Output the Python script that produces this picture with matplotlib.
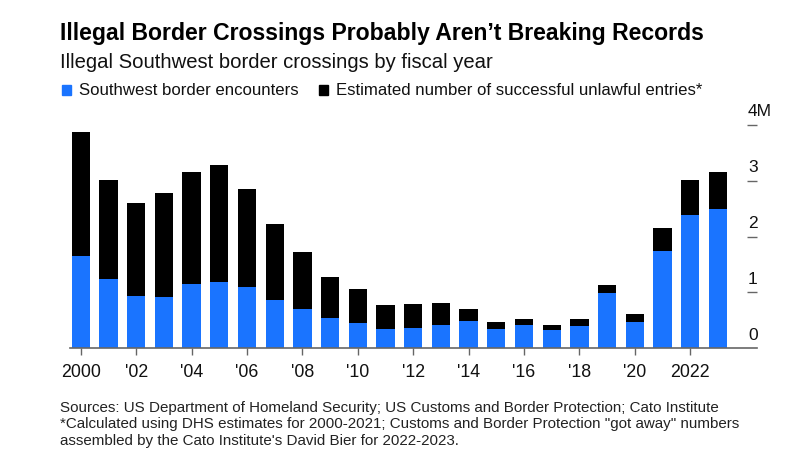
import matplotlib
matplotlib.use("Agg")
import matplotlib.pyplot as plt
from matplotlib.patches import Rectangle

plt.rcParams['font.family'] = ['Liberation Sans', 'DejaVu Sans']

years = list(range(2000, 2024))
encounters = [1.65, 1.24, 0.94, 0.91, 1.15, 1.18, 1.09, 0.87, 0.71, 0.55, 0.46, 0.34,
              0.37, 0.42, 0.49, 0.35, 0.42, 0.32, 0.40, 0.99, 0.47, 1.74, 2.38, 2.49]
totals = [3.87, 3.01, 2.61, 2.79, 3.16, 3.28, 2.85, 2.23, 1.73, 1.27, 1.06, 0.78,
          0.79, 0.82, 0.70, 0.47, 0.53, 0.42, 0.53, 1.13, 0.62, 2.15, 3.02, 3.15]
unlawful = [round(t - e, 2) for t, e in zip(totals, encounters)]
xtick_years = list(range(2000, 2023, 2))
xtick_labels = ['2000', "'02", "'04", "'06", "'08", "'10", "'12", "'14", "'16", "'18", "'20", '2022']
ytick_vals = [0, 1, 2, 3, 4]
ytick_labels = ['0', '1', '2', '3', '4M']

BLUE = '#1A74FF'
BLACK = '#000000'
GRAY = '#666666'

fig = plt.figure(figsize=(8, 4.62), dpi=100)
ax = fig.add_axes([70/800, 1 - 348.3/462, (757-70)/800, (348.3-125)/462])

ax.bar(years, encounters, width=0.66, color=BLUE, linewidth=0)
ax.bar(years, unlawful, bottom=encounters, width=0.66, color=BLACK, linewidth=0)

ax.set_xlim(1999.61, 2024.41)
ax.set_ylim(0, 4)

for s in ['top', 'left', 'right']:
    ax.spines[s].set_visible(False)
ax.spines['bottom'].set_color(GRAY)
ax.spines['bottom'].set_linewidth(1.2)

ax.set_xticks(xtick_years)
ax.set_xticklabels(xtick_labels, fontsize=12.8, color='#111111')
ax.tick_params(axis='x', length=5, width=1, color=GRAY, pad=6)

ax.yaxis.tick_right()
ax.set_yticks(ytick_vals[1:])
ax.set_yticklabels([])
ax.tick_params(axis='y', direction='in', length=7.5, width=1, color=GRAY)

for v, lab in zip(ytick_vals, ytick_labels):
    ax.annotate(lab, xy=(1.0, v), xycoords=('axes fraction', 'data'),
                xytext=(-6.5, 4), textcoords='offset points',
                ha='left', va='bottom', fontsize=12.5, color='#111111',
                annotation_clip=False)

fig.text(60/800, 1 - 40/462, "Illegal Border Crossings Probably Aren\u2019t Breaking Records",
         fontsize=16.6, fontweight='bold', color='#000000', ha='left', va='baseline')
fig.text(60/800, 1 - 68/462, "Illegal Southwest border crossings by fiscal year",
         fontsize=14.6, color='#111111', ha='left', va='baseline')

# legend
fig.patches.append(Rectangle((62/800, 1 - 95/462), 9/800, 10/462, transform=fig.transFigure,
                             color=BLUE, figure=fig))
fig.text(79/800, 1 - 95/462, "Southwest border encounters", fontsize=12.1,
         color='#111111', ha='left', va='baseline')
fig.patches.append(Rectangle((319/800, 1 - 95/462), 9/800, 10/462, transform=fig.transFigure,
                             color=BLACK, figure=fig))
fig.text(336/800, 1 - 95/462, "Estimated number of successful unlawful entries*", fontsize=12.1,
         color='#111111', ha='left', va='baseline')

footer = ("Sources: US Department of Homeland Security; US Customs and Border Protection; Cato Institute\n"
          "*Calculated using DHS estimates for 2000-2021; Customs and Border Protection \"got away\" numbers\n"
          "assembled by the Cato Institute's David Bier for 2022-2023.")
fig.text(60/800, 1 - 401/462, footer, fontsize=10.9, color='#222222', ha='left', va='top',
         linespacing=1.22)

fig.savefig('out.png', dpi=100, facecolor='white')
